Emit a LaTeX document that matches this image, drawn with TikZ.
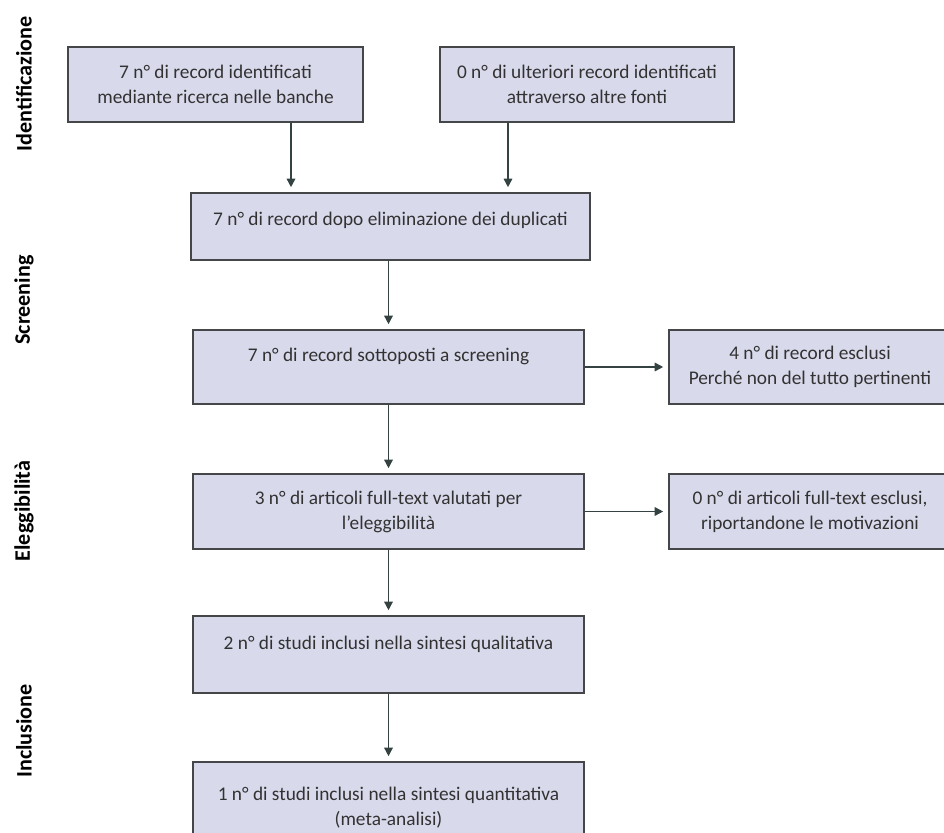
\documentclass[tikz,border=0pt]{standalone}
\usepackage{fontspec}
\setmainfont{Carlito}
\usetikzlibrary{arrows.meta}

\definecolor{riempimento}{RGB}{216,218,236}
\definecolor{bordo}{RGB}{68,70,72}
\definecolor{frecciagrigia}{RGB}{52,66,66}
\definecolor{testo}{RGB}{50,50,50}

\tikzset{
  riquadro/.style={draw=bordo, fill=riempimento, line width=0.9pt, inner sep=0pt,
    align=center, text=testo, font=\fontsize{11}{14.2}\selectfont},
  fase/.style={rotate=90, font=\bfseries\fontsize{12.6}{15}\selectfont},
  freccia/.style={draw=frecciagrigia, line width=0.85pt,
    -{Triangle[length=0.17cm,width=0.17cm]}, shorten >=0.1cm}
}

\begin{document}
\begin{tikzpicture}
    \clip (0,0) rectangle (18.88,-16.66);
    \node[fase] (identificazione) at (0.48,-1.68) {Identificazione};
    \node[fase] (screeningfase) at (0.48,-6.0) {Screening};
    \node[fase] (eleggibilita) at (0.48,-10.22) {Eleggibilità};
    \node[fase] (inclusione) at (0.48,-14.62) {Inclusione};

    \node[riquadro, minimum width=5.9cm, minimum height=1.5cm] (identificati) at (4.31,-1.69)
      {7 n° di record identificati\\mediante ricerca nelle banche};
    \node[riquadro, minimum width=5.88cm, minimum height=1.5cm] (ulteriori) at (11.74,-1.69)
      {0 n° di ulteriori record identificati\\attraverso altre fonti};
    \node[riquadro, minimum width=7.98cm, minimum height=1.34cm, text depth=0.32cm] (duplicati) at (7.81,-4.53)
      {7 n° di record dopo eliminazione dei duplicati};
    \node[riquadro, minimum width=7.82cm, minimum height=1.48cm, text depth=0.48cm] (screening) at (7.77,-7.34)
      {7 n° di record sottoposti a screening};
    \node[riquadro, minimum width=5.64cm, minimum height=1.48cm] (esclusi) at (16.2,-7.34)
      {4 n° di record esclusi\\Perché non del tutto pertinenti};
    \node[riquadro, minimum width=7.82cm, minimum height=1.5cm] (fulltext) at (7.77,-10.23)
      {3 n° di articoli full-text valutati per\\l’eleggibilità};
    \node[riquadro, minimum width=5.64cm, minimum height=1.5cm] (motivazioni) at (16.2,-10.23)
      {0 n° di articoli full-text esclusi,\\riportandone le motivazioni};
    \node[riquadro, minimum width=7.82cm, minimum height=1.54cm, text depth=0.48cm] (qualitativa) at (7.77,-13.09)
      {2 n° di studi inclusi nella sintesi qualitativa};
    \node[riquadro, minimum width=7.82cm, minimum height=1.82cm] (quantitativa) at (7.77,-16.15)
      {1 n° di studi inclusi nella sintesi quantitativa\\(meta-analisi)};

    \draw[freccia] ([xshift=1.51cm]identificati.south) -- ([xshift=1.51cm]identificati.south |- duplicati.north);
    \draw[freccia] ([xshift=-1.58cm]ulteriori.south) -- ([xshift=-1.58cm]ulteriori.south |- duplicati.north);
    \draw[freccia] (screening.north |- duplicati.south) -- (screening.north);
    \draw[freccia] (screening) -- (esclusi);
    \draw[freccia] (screening) -- (fulltext);
    \draw[freccia] (fulltext) -- (motivazioni);
    \draw[freccia] (fulltext) -- (qualitativa);
    \draw[freccia] (qualitativa) -- (quantitativa);
\end{tikzpicture}
\end{document}
